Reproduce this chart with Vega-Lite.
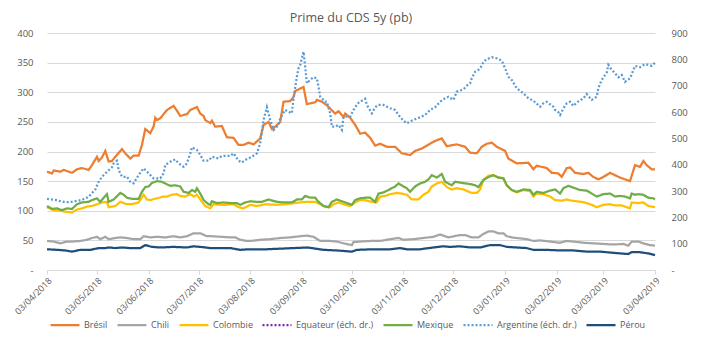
{
"$schema":"https://vega.github.io/schema/vega-lite/v6.json",
"width":608,"height":237,
"autosize":{"type":"none"},
"padding":{"left":47,"top":33,"right":46,"bottom":67},
"background":"white",
"title":{"text":"Prime du CDS 5y (pb)","fontSize":12.5,"fontWeight":"normal","color":"#595959","offset":4,"anchor":"middle"},
"data":{"values":[
{"d":"2018/04/03","p":"Brésil","v":166},{"d":"2018/04/06","p":"Brésil","v":163},{"d":"2018/04/07","p":"Brésil","v":168},{"d":"2018/04/11","p":"Brésil","v":166},{"d":"2018/04/13","p":"Brésil","v":169},{"d":"2018/04/18","p":"Brésil","v":164},{"d":"2018/04/21","p":"Brésil","v":170},{"d":"2018/04/24","p":"Brésil","v":172},{"d":"2018/04/28","p":"Brésil","v":169},{"d":"2018/04/30","p":"Brésil","v":177},{"d":"2018/05/03","p":"Brésil","v":191},{"d":"2018/05/04","p":"Brésil","v":184},{"d":"2018/05/06","p":"Brésil","v":190},{"d":"2018/05/08","p":"Brésil","v":201},{"d":"2018/05/10","p":"Brésil","v":183},{"d":"2018/05/12","p":"Brésil","v":184},{"d":"2018/05/14","p":"Brésil","v":191},{"d":"2018/05/18","p":"Brésil","v":204},{"d":"2018/05/20","p":"Brésil","v":197},{"d":"2018/05/23","p":"Brésil","v":188},{"d":"2018/05/25","p":"Brésil","v":193},{"d":"2018/05/28","p":"Brésil","v":193},{"d":"2018/05/30","p":"Brésil","v":211},{"d":"2018/06/01","p":"Brésil","v":238},{"d":"2018/06/04","p":"Brésil","v":231},{"d":"2018/06/06","p":"Brésil","v":242},{"d":"2018/06/07","p":"Brésil","v":257},{"d":"2018/06/08","p":"Brésil","v":253},{"d":"2018/06/10","p":"Brésil","v":256},{"d":"2018/06/14","p":"Brésil","v":270},{"d":"2018/06/18","p":"Brésil","v":277},{"d":"2018/06/20","p":"Brésil","v":269},{"d":"2018/06/22","p":"Brésil","v":260},{"d":"2018/06/26","p":"Brésil","v":263},{"d":"2018/06/28","p":"Brésil","v":270},{"d":"2018/07/02","p":"Brésil","v":275},{"d":"2018/07/04","p":"Brésil","v":264},{"d":"2018/07/06","p":"Brésil","v":260},{"d":"2018/07/07","p":"Brésil","v":253},{"d":"2018/07/10","p":"Brésil","v":248},{"d":"2018/07/11","p":"Brésil","v":252},{"d":"2018/07/13","p":"Brésil","v":242},{"d":"2018/07/17","p":"Brésil","v":243},{"d":"2018/07/20","p":"Brésil","v":224},{"d":"2018/07/24","p":"Brésil","v":223},{"d":"2018/07/27","p":"Brésil","v":211},{"d":"2018/07/30","p":"Brésil","v":211},{"d":"2018/08/02","p":"Brésil","v":215},{"d":"2018/08/05","p":"Brésil","v":212},{"d":"2018/08/09","p":"Brésil","v":222},{"d":"2018/08/11","p":"Brésil","v":245},{"d":"2018/08/14","p":"Brésil","v":250},{"d":"2018/08/16","p":"Brésil","v":238},{"d":"2018/08/18","p":"Brésil","v":242},{"d":"2018/08/21","p":"Brésil","v":250},{"d":"2018/08/23","p":"Brésil","v":284},{"d":"2018/08/27","p":"Brésil","v":285},{"d":"2018/08/29","p":"Brésil","v":292},{"d":"2018/08/30","p":"Brésil","v":302},{"d":"2018/09/04","p":"Brésil","v":309},{"d":"2018/09/06","p":"Brésil","v":280},{"d":"2018/09/11","p":"Brésil","v":283},{"d":"2018/09/12","p":"Brésil","v":287},{"d":"2018/09/15","p":"Brésil","v":284},{"d":"2018/09/18","p":"Brésil","v":278},{"d":"2018/09/23","p":"Brésil","v":264},{"d":"2018/09/25","p":"Brésil","v":268},{"d":"2018/09/28","p":"Brésil","v":258},{"d":"2018/09/29","p":"Brésil","v":264},{"d":"2018/10/02","p":"Brésil","v":257},{"d":"2018/10/05","p":"Brésil","v":245},{"d":"2018/10/08","p":"Brésil","v":230},{"d":"2018/10/11","p":"Brésil","v":232},{"d":"2018/10/14","p":"Brésil","v":223},{"d":"2018/10/17","p":"Brésil","v":210},{"d":"2018/10/20","p":"Brésil","v":213},{"d":"2018/10/24","p":"Brésil","v":208},{"d":"2018/10/29","p":"Brésil","v":208},{"d":"2018/11/02","p":"Brésil","v":197},{"d":"2018/11/07","p":"Brésil","v":194},{"d":"2018/11/10","p":"Brésil","v":201},{"d":"2018/11/14","p":"Brésil","v":205},{"d":"2018/11/20","p":"Brésil","v":215},{"d":"2018/11/23","p":"Brésil","v":219},{"d":"2018/11/26","p":"Brésil","v":222},{"d":"2018/11/29","p":"Brésil","v":209},{"d":"2018/12/05","p":"Brésil","v":212},{"d":"2018/12/10","p":"Brésil","v":208},{"d":"2018/12/13","p":"Brésil","v":198},{"d":"2018/12/17","p":"Brésil","v":197},{"d":"2018/12/20","p":"Brésil","v":208},{"d":"2018/12/23","p":"Brésil","v":213},{"d":"2018/12/26","p":"Brésil","v":215},{"d":"2018/12/29","p":"Brésil","v":208},{"d":"2019/01/03","p":"Brésil","v":201},{"d":"2019/01/05","p":"Brésil","v":188},{"d":"2019/01/10","p":"Brésil","v":180},{"d":"2019/01/17","p":"Brésil","v":181},{"d":"2019/01/20","p":"Brésil","v":170},{"d":"2019/01/22","p":"Brésil","v":176},{"d":"2019/01/28","p":"Brésil","v":172},{"d":"2019/01/31","p":"Brésil","v":164},{"d":"2019/02/04","p":"Brésil","v":163},{"d":"2019/02/06","p":"Brésil","v":157},{"d":"2019/02/09","p":"Brésil","v":172},{"d":"2019/02/11","p":"Brésil","v":173},{"d":"2019/02/14","p":"Brésil","v":164},{"d":"2019/02/19","p":"Brésil","v":162},{"d":"2019/02/22","p":"Brésil","v":164},{"d":"2019/02/25","p":"Brésil","v":157},{"d":"2019/02/28","p":"Brésil","v":153},{"d":"2019/03/03","p":"Brésil","v":157},{"d":"2019/03/07","p":"Brésil","v":164},{"d":"2019/03/13","p":"Brésil","v":156},{"d":"2019/03/19","p":"Brésil","v":150},{"d":"2019/03/22","p":"Brésil","v":177},{"d":"2019/03/25","p":"Brésil","v":174},{"d":"2019/03/27","p":"Brésil","v":184},{"d":"2019/03/29","p":"Brésil","v":177},{"d":"2019/04/01","p":"Brésil","v":170},{"d":"2019/04/03","p":"Brésil","v":170},
{"d":"2018/04/03","p":"Chili","v":49},{"d":"2018/04/07","p":"Chili","v":48},{"d":"2018/04/11","p":"Chili","v":45},{"d":"2018/04/15","p":"Chili","v":48},{"d":"2018/04/18","p":"Chili","v":48},{"d":"2018/04/23","p":"Chili","v":49},{"d":"2018/04/27","p":"Chili","v":51},{"d":"2018/04/30","p":"Chili","v":54},{"d":"2018/05/03","p":"Chili","v":56},{"d":"2018/05/05","p":"Chili","v":52},{"d":"2018/05/08","p":"Chili","v":56},{"d":"2018/05/10","p":"Chili","v":52},{"d":"2018/05/14","p":"Chili","v":54},{"d":"2018/05/17","p":"Chili","v":55},{"d":"2018/05/21","p":"Chili","v":54},{"d":"2018/05/25","p":"Chili","v":52},{"d":"2018/05/29","p":"Chili","v":52},{"d":"2018/05/31","p":"Chili","v":57},{"d":"2018/06/04","p":"Chili","v":55},{"d":"2018/06/08","p":"Chili","v":56},{"d":"2018/06/13","p":"Chili","v":55},{"d":"2018/06/18","p":"Chili","v":57},{"d":"2018/06/22","p":"Chili","v":55},{"d":"2018/06/26","p":"Chili","v":57},{"d":"2018/06/30","p":"Chili","v":62},{"d":"2018/07/04","p":"Chili","v":62},{"d":"2018/07/08","p":"Chili","v":57},{"d":"2018/07/11","p":"Chili","v":57},{"d":"2018/07/17","p":"Chili","v":56},{"d":"2018/07/22","p":"Chili","v":55},{"d":"2018/07/25","p":"Chili","v":55},{"d":"2018/07/28","p":"Chili","v":51},{"d":"2018/08/01","p":"Chili","v":49},{"d":"2018/08/03","p":"Chili","v":49},{"d":"2018/08/09","p":"Chili","v":51},{"d":"2018/08/15","p":"Chili","v":52},{"d":"2018/08/21","p":"Chili","v":54},{"d":"2018/08/27","p":"Chili","v":55},{"d":"2018/09/02","p":"Chili","v":57},{"d":"2018/09/06","p":"Chili","v":58},{"d":"2018/09/10","p":"Chili","v":56},{"d":"2018/09/14","p":"Chili","v":49},{"d":"2018/09/20","p":"Chili","v":49},{"d":"2018/09/24","p":"Chili","v":48},{"d":"2018/09/28","p":"Chili","v":45},{"d":"2018/10/03","p":"Chili","v":42},{"d":"2018/10/04","p":"Chili","v":47},{"d":"2018/10/08","p":"Chili","v":48},{"d":"2018/10/14","p":"Chili","v":49},{"d":"2018/10/20","p":"Chili","v":49},{"d":"2018/10/26","p":"Chili","v":52},{"d":"2018/10/31","p":"Chili","v":54},{"d":"2018/11/03","p":"Chili","v":51},{"d":"2018/11/09","p":"Chili","v":52},{"d":"2018/11/15","p":"Chili","v":54},{"d":"2018/11/21","p":"Chili","v":56},{"d":"2018/11/25","p":"Chili","v":60},{"d":"2018/11/28","p":"Chili","v":57},{"d":"2018/11/30","p":"Chili","v":55},{"d":"2018/12/07","p":"Chili","v":59},{"d":"2018/12/10","p":"Chili","v":59},{"d":"2018/12/14","p":"Chili","v":55},{"d":"2018/12/18","p":"Chili","v":55},{"d":"2018/12/21","p":"Chili","v":61},{"d":"2018/12/24","p":"Chili","v":65},{"d":"2018/12/27","p":"Chili","v":65},{"d":"2018/12/30","p":"Chili","v":62},{"d":"2019/01/02","p":"Chili","v":62},{"d":"2019/01/04","p":"Chili","v":57},{"d":"2019/01/07","p":"Chili","v":55},{"d":"2019/01/10","p":"Chili","v":54},{"d":"2019/01/16","p":"Chili","v":52},{"d":"2019/01/20","p":"Chili","v":49},{"d":"2019/01/24","p":"Chili","v":50},{"d":"2019/01/30","p":"Chili","v":48},{"d":"2019/02/05","p":"Chili","v":46},{"d":"2019/02/09","p":"Chili","v":49},{"d":"2019/02/13","p":"Chili","v":48},{"d":"2019/02/19","p":"Chili","v":46},{"d":"2019/02/25","p":"Chili","v":45},{"d":"2019/03/03","p":"Chili","v":44},{"d":"2019/03/09","p":"Chili","v":43},{"d":"2019/03/15","p":"Chili","v":44},{"d":"2019/03/18","p":"Chili","v":41},{"d":"2019/03/20","p":"Chili","v":48},{"d":"2019/03/24","p":"Chili","v":48},{"d":"2019/03/27","p":"Chili","v":45},{"d":"2019/03/31","p":"Chili","v":42},{"d":"2019/04/03","p":"Chili","v":41},
{"d":"2018/04/03","p":"Colombie","v":106},{"d":"2018/04/07","p":"Colombie","v":101},{"d":"2018/04/11","p":"Colombie","v":100},{"d":"2018/04/15","p":"Colombie","v":98},{"d":"2018/04/18","p":"Colombie","v":97},{"d":"2018/04/21","p":"Colombie","v":102},{"d":"2018/04/24","p":"Colombie","v":104},{"d":"2018/04/27","p":"Colombie","v":107},{"d":"2018/04/30","p":"Colombie","v":108},{"d":"2018/05/03","p":"Colombie","v":111},{"d":"2018/05/06","p":"Colombie","v":114},{"d":"2018/05/09","p":"Colombie","v":115},{"d":"2018/05/10","p":"Colombie","v":106},{"d":"2018/05/14","p":"Colombie","v":108},{"d":"2018/05/17","p":"Colombie","v":115},{"d":"2018/05/21","p":"Colombie","v":111},{"d":"2018/05/24","p":"Colombie","v":111},{"d":"2018/05/28","p":"Colombie","v":114},{"d":"2018/05/31","p":"Colombie","v":127},{"d":"2018/06/02","p":"Colombie","v":119},{"d":"2018/06/04","p":"Colombie","v":118},{"d":"2018/06/08","p":"Colombie","v":121},{"d":"2018/06/12","p":"Colombie","v":124},{"d":"2018/06/14","p":"Colombie","v":124},{"d":"2018/06/17","p":"Colombie","v":127},{"d":"2018/06/20","p":"Colombie","v":128},{"d":"2018/06/22","p":"Colombie","v":125},{"d":"2018/06/25","p":"Colombie","v":124},{"d":"2018/06/28","p":"Colombie","v":128},{"d":"2018/06/30","p":"Colombie","v":124},{"d":"2018/07/02","p":"Colombie","v":127},{"d":"2018/07/05","p":"Colombie","v":115},{"d":"2018/07/07","p":"Colombie","v":108},{"d":"2018/07/10","p":"Colombie","v":104},{"d":"2018/07/12","p":"Colombie","v":111},{"d":"2018/07/16","p":"Colombie","v":110},{"d":"2018/07/19","p":"Colombie","v":110},{"d":"2018/07/24","p":"Colombie","v":111},{"d":"2018/07/27","p":"Colombie","v":106},{"d":"2018/07/30","p":"Colombie","v":104},{"d":"2018/08/03","p":"Colombie","v":110},{"d":"2018/08/07","p":"Colombie","v":108},{"d":"2018/08/12","p":"Colombie","v":111},{"d":"2018/08/19","p":"Colombie","v":110},{"d":"2018/08/24","p":"Colombie","v":111},{"d":"2018/09/02","p":"Colombie","v":114},{"d":"2018/09/06","p":"Colombie","v":115},{"d":"2018/09/11","p":"Colombie","v":115},{"d":"2018/09/14","p":"Colombie","v":111},{"d":"2018/09/17","p":"Colombie","v":107},{"d":"2018/09/20","p":"Colombie","v":106},{"d":"2018/09/22","p":"Colombie","v":111},{"d":"2018/09/25","p":"Colombie","v":114},{"d":"2018/09/28","p":"Colombie","v":111},{"d":"2018/10/02","p":"Colombie","v":108},{"d":"2018/10/05","p":"Colombie","v":114},{"d":"2018/10/08","p":"Colombie","v":118},{"d":"2018/10/11","p":"Colombie","v":118},{"d":"2018/10/15","p":"Colombie","v":115},{"d":"2018/10/18","p":"Colombie","v":114},{"d":"2018/10/20","p":"Colombie","v":124},{"d":"2018/10/23","p":"Colombie","v":125},{"d":"2018/10/26","p":"Colombie","v":128},{"d":"2018/10/30","p":"Colombie","v":130},{"d":"2018/11/02","p":"Colombie","v":129},{"d":"2018/11/05","p":"Colombie","v":127},{"d":"2018/11/08","p":"Colombie","v":119},{"d":"2018/11/12","p":"Colombie","v":119},{"d":"2018/11/15","p":"Colombie","v":127},{"d":"2018/11/18","p":"Colombie","v":132},{"d":"2018/11/20","p":"Colombie","v":141},{"d":"2018/11/23","p":"Colombie","v":146},{"d":"2018/11/26","p":"Colombie","v":149},{"d":"2018/11/28","p":"Colombie","v":143},{"d":"2018/11/29","p":"Colombie","v":140},{"d":"2018/12/02","p":"Colombie","v":136},{"d":"2018/12/05","p":"Colombie","v":138},{"d":"2018/12/09","p":"Colombie","v":136},{"d":"2018/12/14","p":"Colombie","v":130},{"d":"2018/12/17","p":"Colombie","v":130},{"d":"2018/12/19","p":"Colombie","v":136},{"d":"2018/12/21","p":"Colombie","v":152},{"d":"2018/12/24","p":"Colombie","v":159},{"d":"2018/12/27","p":"Colombie","v":160},{"d":"2018/12/30","p":"Colombie","v":156},{"d":"2019/01/02","p":"Colombie","v":154},{"d":"2019/01/04","p":"Colombie","v":143},{"d":"2019/01/07","p":"Colombie","v":135},{"d":"2019/01/10","p":"Colombie","v":131},{"d":"2019/01/14","p":"Colombie","v":135},{"d":"2019/01/18","p":"Colombie","v":133},{"d":"2019/01/20","p":"Colombie","v":124},{"d":"2019/01/22","p":"Colombie","v":129},{"d":"2019/01/26","p":"Colombie","v":128},{"d":"2019/01/30","p":"Colombie","v":124},{"d":"2019/02/02","p":"Colombie","v":118},{"d":"2019/02/06","p":"Colombie","v":117},{"d":"2019/02/09","p":"Colombie","v":119},{"d":"2019/02/12","p":"Colombie","v":117},{"d":"2019/02/15","p":"Colombie","v":116},{"d":"2019/02/18","p":"Colombie","v":115},{"d":"2019/02/21","p":"Colombie","v":113},{"d":"2019/02/24","p":"Colombie","v":110},{"d":"2019/02/27","p":"Colombie","v":106},{"d":"2019/03/03","p":"Colombie","v":110},{"d":"2019/03/07","p":"Colombie","v":111},{"d":"2019/03/10","p":"Colombie","v":109},{"d":"2019/03/14","p":"Colombie","v":109},{"d":"2019/03/19","p":"Colombie","v":104},{"d":"2019/03/20","p":"Colombie","v":114},{"d":"2019/03/24","p":"Colombie","v":113},{"d":"2019/03/27","p":"Colombie","v":114},{"d":"2019/03/30","p":"Colombie","v":108},{"d":"2019/04/03","p":"Colombie","v":106},
{"d":"2018/04/03","p":"Mexique","v":108},{"d":"2018/04/06","p":"Mexique","v":103},{"d":"2018/04/09","p":"Mexique","v":104},{"d":"2018/04/12","p":"Mexique","v":101},{"d":"2018/04/15","p":"Mexique","v":104},{"d":"2018/04/18","p":"Mexique","v":103},{"d":"2018/04/21","p":"Mexique","v":111},{"d":"2018/04/24","p":"Mexique","v":114},{"d":"2018/04/28","p":"Mexique","v":115},{"d":"2018/04/30","p":"Mexique","v":118},{"d":"2018/05/03","p":"Mexique","v":121},{"d":"2018/05/05","p":"Mexique","v":115},{"d":"2018/05/07","p":"Mexique","v":122},{"d":"2018/05/09","p":"Mexique","v":128},{"d":"2018/05/10","p":"Mexique","v":115},{"d":"2018/05/13","p":"Mexique","v":119},{"d":"2018/05/17","p":"Mexique","v":130},{"d":"2018/05/19","p":"Mexique","v":127},{"d":"2018/05/21","p":"Mexique","v":122},{"d":"2018/05/24","p":"Mexique","v":120},{"d":"2018/05/28","p":"Mexique","v":120},{"d":"2018/05/30","p":"Mexique","v":132},{"d":"2018/06/01","p":"Mexique","v":140},{"d":"2018/06/03","p":"Mexique","v":141},{"d":"2018/06/05","p":"Mexique","v":147},{"d":"2018/06/08","p":"Mexique","v":150},{"d":"2018/06/11","p":"Mexique","v":149},{"d":"2018/06/13","p":"Mexique","v":146},{"d":"2018/06/16","p":"Mexique","v":142},{"d":"2018/06/19","p":"Mexique","v":143},{"d":"2018/06/22","p":"Mexique","v":141},{"d":"2018/06/24","p":"Mexique","v":132},{"d":"2018/06/27","p":"Mexique","v":130},{"d":"2018/06/29","p":"Mexique","v":135},{"d":"2018/07/01","p":"Mexique","v":132},{"d":"2018/07/02","p":"Mexique","v":138},{"d":"2018/07/04","p":"Mexique","v":129},{"d":"2018/07/06","p":"Mexique","v":118},{"d":"2018/07/09","p":"Mexique","v":111},{"d":"2018/07/10","p":"Mexique","v":110},{"d":"2018/07/11","p":"Mexique","v":116},{"d":"2018/07/14","p":"Mexique","v":113},{"d":"2018/07/18","p":"Mexique","v":114},{"d":"2018/07/22","p":"Mexique","v":113},{"d":"2018/07/26","p":"Mexique","v":113},{"d":"2018/07/28","p":"Mexique","v":110},{"d":"2018/07/31","p":"Mexique","v":114},{"d":"2018/08/03","p":"Mexique","v":116},{"d":"2018/08/07","p":"Mexique","v":115},{"d":"2018/08/10","p":"Mexique","v":115},{"d":"2018/08/14","p":"Mexique","v":119},{"d":"2018/08/19","p":"Mexique","v":115},{"d":"2018/08/23","p":"Mexique","v":114},{"d":"2018/08/28","p":"Mexique","v":114},{"d":"2018/08/31","p":"Mexique","v":119},{"d":"2018/09/03","p":"Mexique","v":119},{"d":"2018/09/05","p":"Mexique","v":125},{"d":"2018/09/08","p":"Mexique","v":122},{"d":"2018/09/11","p":"Mexique","v":122},{"d":"2018/09/13","p":"Mexique","v":115},{"d":"2018/09/16","p":"Mexique","v":108},{"d":"2018/09/19","p":"Mexique","v":106},{"d":"2018/09/21","p":"Mexique","v":115},{"d":"2018/09/24","p":"Mexique","v":119},{"d":"2018/09/27","p":"Mexique","v":116},{"d":"2018/09/30","p":"Mexique","v":113},{"d":"2018/10/03","p":"Mexique","v":110},{"d":"2018/10/05","p":"Mexique","v":118},{"d":"2018/10/08","p":"Mexique","v":121},{"d":"2018/10/11","p":"Mexique","v":122},{"d":"2018/10/14","p":"Mexique","v":122},{"d":"2018/10/17","p":"Mexique","v":115},{"d":"2018/10/19","p":"Mexique","v":129},{"d":"2018/10/22","p":"Mexique","v":131},{"d":"2018/10/25","p":"Mexique","v":135},{"d":"2018/10/29","p":"Mexique","v":141},{"d":"2018/10/31","p":"Mexique","v":146},{"d":"2018/11/03","p":"Mexique","v":141},{"d":"2018/11/05","p":"Mexique","v":138},{"d":"2018/11/07","p":"Mexique","v":132},{"d":"2018/11/10","p":"Mexique","v":141},{"d":"2018/11/13","p":"Mexique","v":146},{"d":"2018/11/16","p":"Mexique","v":149},{"d":"2018/11/18","p":"Mexique","v":153},{"d":"2018/11/20","p":"Mexique","v":160},{"d":"2018/11/23","p":"Mexique","v":156},{"d":"2018/11/26","p":"Mexique","v":162},{"d":"2018/11/28","p":"Mexique","v":149},{"d":"2018/12/02","p":"Mexique","v":143},{"d":"2018/12/04","p":"Mexique","v":149},{"d":"2018/12/08","p":"Mexique","v":147},{"d":"2018/12/13","p":"Mexique","v":145},{"d":"2018/12/16","p":"Mexique","v":143},{"d":"2018/12/18","p":"Mexique","v":140},{"d":"2018/12/21","p":"Mexique","v":152},{"d":"2018/12/24","p":"Mexique","v":157},{"d":"2018/12/27","p":"Mexique","v":160},{"d":"2018/12/30","p":"Mexique","v":156},{"d":"2019/01/02","p":"Mexique","v":155},{"d":"2019/01/04","p":"Mexique","v":143},{"d":"2019/01/07","p":"Mexique","v":135},{"d":"2019/01/10","p":"Mexique","v":132},{"d":"2019/01/14","p":"Mexique","v":136},{"d":"2019/01/18","p":"Mexique","v":135},{"d":"2019/01/20","p":"Mexique","v":127},{"d":"2019/01/22","p":"Mexique","v":132},{"d":"2019/01/26","p":"Mexique","v":130},{"d":"2019/01/30","p":"Mexique","v":134},{"d":"2019/02/02","p":"Mexique","v":136},{"d":"2019/02/05","p":"Mexique","v":129},{"d":"2019/02/07","p":"Mexique","v":138},{"d":"2019/02/10","p":"Mexique","v":142},{"d":"2019/02/14","p":"Mexique","v":138},{"d":"2019/02/17","p":"Mexique","v":135},{"d":"2019/02/21","p":"Mexique","v":134},{"d":"2019/02/24","p":"Mexique","v":129},{"d":"2019/02/27","p":"Mexique","v":124},{"d":"2019/03/03","p":"Mexique","v":128},{"d":"2019/03/07","p":"Mexique","v":129},{"d":"2019/03/10","p":"Mexique","v":124},{"d":"2019/03/13","p":"Mexique","v":125},{"d":"2019/03/16","p":"Mexique","v":124},{"d":"2019/03/19","p":"Mexique","v":121},{"d":"2019/03/20","p":"Mexique","v":129},{"d":"2019/03/22","p":"Mexique","v":127},{"d":"2019/03/24","p":"Mexique","v":128},{"d":"2019/03/27","p":"Mexique","v":127},{"d":"2019/03/30","p":"Mexique","v":122},{"d":"2019/04/02","p":"Mexique","v":121},{"d":"2019/04/03","p":"Mexique","v":119},
{"d":"2018/04/03","p":"Pérou","v":35},{"d":"2018/04/09","p":"Pérou","v":34},{"d":"2018/04/14","p":"Pérou","v":33},{"d":"2018/04/18","p":"Pérou","v":31},{"d":"2018/04/23","p":"Pérou","v":34},{"d":"2018/04/29","p":"Pérou","v":34},{"d":"2018/05/04","p":"Pérou","v":37},{"d":"2018/05/08","p":"Pérou","v":37},{"d":"2018/05/10","p":"Pérou","v":38},{"d":"2018/05/14","p":"Pérou","v":37},{"d":"2018/05/18","p":"Pérou","v":38},{"d":"2018/05/23","p":"Pérou","v":37},{"d":"2018/05/29","p":"Pérou","v":37},{"d":"2018/06/01","p":"Pérou","v":42},{"d":"2018/06/05","p":"Pérou","v":39},{"d":"2018/06/10","p":"Pérou","v":38},{"d":"2018/06/18","p":"Pérou","v":39},{"d":"2018/06/26","p":"Pérou","v":38},{"d":"2018/06/30","p":"Pérou","v":40},{"d":"2018/07/04","p":"Pérou","v":39},{"d":"2018/07/10","p":"Pérou","v":37},{"d":"2018/07/16","p":"Pérou","v":37},{"d":"2018/07/22","p":"Pérou","v":37},{"d":"2018/07/28","p":"Pérou","v":34},{"d":"2018/08/02","p":"Pérou","v":35},{"d":"2018/08/13","p":"Pérou","v":35},{"d":"2018/08/21","p":"Pérou","v":36},{"d":"2018/08/29","p":"Pérou","v":37},{"d":"2018/09/06","p":"Pérou","v":38},{"d":"2018/09/09","p":"Pérou","v":37},{"d":"2018/09/16","p":"Pérou","v":34},{"d":"2018/09/24","p":"Pérou","v":33},{"d":"2018/10/03","p":"Pérou","v":31},{"d":"2018/10/06","p":"Pérou","v":34},{"d":"2018/10/16","p":"Pérou","v":35},{"d":"2018/10/26","p":"Pérou","v":35},{"d":"2018/11/01","p":"Pérou","v":37},{"d":"2018/11/05","p":"Pérou","v":35},{"d":"2018/11/13","p":"Pérou","v":35},{"d":"2018/11/21","p":"Pérou","v":38},{"d":"2018/11/27","p":"Pérou","v":40},{"d":"2018/12/01","p":"Pérou","v":39},{"d":"2018/12/07","p":"Pérou","v":40},{"d":"2018/12/13","p":"Pérou","v":38},{"d":"2018/12/19","p":"Pérou","v":38},{"d":"2018/12/25","p":"Pérou","v":42},{"d":"2018/12/31","p":"Pérou","v":42},{"d":"2019/01/04","p":"Pérou","v":39},{"d":"2019/01/10","p":"Pérou","v":38},{"d":"2019/01/16","p":"Pérou","v":37},{"d":"2019/01/20","p":"Pérou","v":34},{"d":"2019/01/28","p":"Pérou","v":34},{"d":"2019/02/05","p":"Pérou","v":33},{"d":"2019/02/13","p":"Pérou","v":33},{"d":"2019/02/21","p":"Pérou","v":31},{"d":"2019/03/01","p":"Pérou","v":31},{"d":"2019/03/09","p":"Pérou","v":29},{"d":"2019/03/13","p":"Pérou","v":28},{"d":"2019/03/18","p":"Pérou","v":27},{"d":"2019/03/20","p":"Pérou","v":30},{"d":"2019/03/25","p":"Pérou","v":30},{"d":"2019/03/30","p":"Pérou","v":28},{"d":"2019/04/03","p":"Pérou","v":25},
{"d":"2018/04/03","p":"Argentine (éch. dr.)","v":270},{"d":"2018/04/08","p":"Argentine (éch. dr.)","v":266},{"d":"2018/04/14","p":"Argentine (éch. dr.)","v":257},{"d":"2018/04/18","p":"Argentine (éch. dr.)","v":259},{"d":"2018/04/24","p":"Argentine (éch. dr.)","v":266},{"d":"2018/04/28","p":"Argentine (éch. dr.)","v":278},{"d":"2018/05/02","p":"Argentine (éch. dr.)","v":306},{"d":"2018/05/04","p":"Argentine (éch. dr.)","v":335},{"d":"2018/05/06","p":"Argentine (éch. dr.)","v":354},{"d":"2018/05/09","p":"Argentine (éch. dr.)","v":373},{"d":"2018/05/12","p":"Argentine (éch. dr.)","v":390},{"d":"2018/05/13","p":"Argentine (éch. dr.)","v":405},{"d":"2018/05/15","p":"Argentine (éch. dr.)","v":415},{"d":"2018/05/16","p":"Argentine (éch. dr.)","v":380},{"d":"2018/05/18","p":"Argentine (éch. dr.)","v":354},{"d":"2018/05/21","p":"Argentine (éch. dr.)","v":354},{"d":"2018/05/23","p":"Argentine (éch. dr.)","v":335},{"d":"2018/05/25","p":"Argentine (éch. dr.)","v":329},{"d":"2018/05/28","p":"Argentine (éch. dr.)","v":361},{"d":"2018/05/31","p":"Argentine (éch. dr.)","v":386},{"d":"2018/06/04","p":"Argentine (éch. dr.)","v":361},{"d":"2018/06/06","p":"Argentine (éch. dr.)","v":348},{"d":"2018/06/10","p":"Argentine (éch. dr.)","v":348},{"d":"2018/06/12","p":"Argentine (éch. dr.)","v":367},{"d":"2018/06/13","p":"Argentine (éch. dr.)","v":399},{"d":"2018/06/17","p":"Argentine (éch. dr.)","v":415},{"d":"2018/06/19","p":"Argentine (éch. dr.)","v":420},{"d":"2018/06/21","p":"Argentine (éch. dr.)","v":405},{"d":"2018/06/24","p":"Argentine (éch. dr.)","v":392},{"d":"2018/06/26","p":"Argentine (éch. dr.)","v":405},{"d":"2018/06/28","p":"Argentine (éch. dr.)","v":443},{"d":"2018/06/29","p":"Argentine (éch. dr.)","v":466},{"d":"2018/07/02","p":"Argentine (éch. dr.)","v":456},{"d":"2018/07/04","p":"Argentine (éch. dr.)","v":437},{"d":"2018/07/06","p":"Argentine (éch. dr.)","v":415},{"d":"2018/07/09","p":"Argentine (éch. dr.)","v":415},{"d":"2018/07/11","p":"Argentine (éch. dr.)","v":430},{"d":"2018/07/15","p":"Argentine (éch. dr.)","v":424},{"d":"2018/07/17","p":"Argentine (éch. dr.)","v":433},{"d":"2018/07/20","p":"Argentine (éch. dr.)","v":433},{"d":"2018/07/22","p":"Argentine (éch. dr.)","v":433},{"d":"2018/07/24","p":"Argentine (éch. dr.)","v":443},{"d":"2018/07/27","p":"Argentine (éch. dr.)","v":415},{"d":"2018/07/29","p":"Argentine (éch. dr.)","v":408},{"d":"2018/07/31","p":"Argentine (éch. dr.)","v":418},{"d":"2018/08/04","p":"Argentine (éch. dr.)","v":430},{"d":"2018/08/07","p":"Argentine (éch. dr.)","v":443},{"d":"2018/08/09","p":"Argentine (éch. dr.)","v":481},{"d":"2018/08/11","p":"Argentine (éch. dr.)","v":570},{"d":"2018/08/13","p":"Argentine (éch. dr.)","v":618},{"d":"2018/08/15","p":"Argentine (éch. dr.)","v":570},{"d":"2018/08/17","p":"Argentine (éch. dr.)","v":532},{"d":"2018/08/20","p":"Argentine (éch. dr.)","v":551},{"d":"2018/08/21","p":"Argentine (éch. dr.)","v":576},{"d":"2018/08/24","p":"Argentine (éch. dr.)","v":608},{"d":"2018/08/26","p":"Argentine (éch. dr.)","v":601},{"d":"2018/08/28","p":"Argentine (éch. dr.)","v":595},{"d":"2018/08/29","p":"Argentine (éch. dr.)","v":652},{"d":"2018/08/31","p":"Argentine (éch. dr.)","v":734},{"d":"2018/09/01","p":"Argentine (éch. dr.)","v":766},{"d":"2018/09/02","p":"Argentine (éch. dr.)","v":779},{"d":"2018/09/03","p":"Argentine (éch. dr.)","v":804},{"d":"2018/09/04","p":"Argentine (éch. dr.)","v":829},{"d":"2018/09/05","p":"Argentine (éch. dr.)","v":772},{"d":"2018/09/06","p":"Argentine (éch. dr.)","v":709},{"d":"2018/09/08","p":"Argentine (éch. dr.)","v":722},{"d":"2018/09/10","p":"Argentine (éch. dr.)","v":732},{"d":"2018/09/12","p":"Argentine (éch. dr.)","v":728},{"d":"2018/09/13","p":"Argentine (éch. dr.)","v":696},{"d":"2018/09/14","p":"Argentine (éch. dr.)","v":658},{"d":"2018/09/17","p":"Argentine (éch. dr.)","v":639},{"d":"2018/09/18","p":"Argentine (éch. dr.)","v":639},{"d":"2018/09/20","p":"Argentine (éch. dr.)","v":595},{"d":"2018/09/21","p":"Argentine (éch. dr.)","v":544},{"d":"2018/09/23","p":"Argentine (éch. dr.)","v":544},{"d":"2018/09/25","p":"Argentine (éch. dr.)","v":551},{"d":"2018/09/27","p":"Argentine (éch. dr.)","v":532},{"d":"2018/09/28","p":"Argentine (éch. dr.)","v":582},{"d":"2018/10/02","p":"Argentine (éch. dr.)","v":582},{"d":"2018/10/04","p":"Argentine (éch. dr.)","v":608},{"d":"2018/10/06","p":"Argentine (éch. dr.)","v":627},{"d":"2018/10/07","p":"Argentine (éch. dr.)","v":635},{"d":"2018/10/11","p":"Argentine (éch. dr.)","v":650},{"d":"2018/10/12","p":"Argentine (éch. dr.)","v":627},{"d":"2018/10/15","p":"Argentine (éch. dr.)","v":595},{"d":"2018/10/17","p":"Argentine (éch. dr.)","v":618},{"d":"2018/10/19","p":"Argentine (éch. dr.)","v":627},{"d":"2018/10/22","p":"Argentine (éch. dr.)","v":627},{"d":"2018/10/26","p":"Argentine (éch. dr.)","v":614},{"d":"2018/10/29","p":"Argentine (éch. dr.)","v":608},{"d":"2018/10/31","p":"Argentine (éch. dr.)","v":589},{"d":"2018/11/03","p":"Argentine (éch. dr.)","v":567},{"d":"2018/11/05","p":"Argentine (éch. dr.)","v":557},{"d":"2018/11/09","p":"Argentine (éch. dr.)","v":570},{"d":"2018/11/13","p":"Argentine (éch. dr.)","v":580},{"d":"2018/11/16","p":"Argentine (éch. dr.)","v":589},{"d":"2018/11/19","p":"Argentine (éch. dr.)","v":608},{"d":"2018/11/22","p":"Argentine (éch. dr.)","v":618},{"d":"2018/11/25","p":"Argentine (éch. dr.)","v":639},{"d":"2018/11/28","p":"Argentine (éch. dr.)","v":652},{"d":"2018/11/30","p":"Argentine (éch. dr.)","v":658},{"d":"2018/12/03","p":"Argentine (éch. dr.)","v":646},{"d":"2018/12/05","p":"Argentine (éch. dr.)","v":677},{"d":"2018/12/09","p":"Argentine (éch. dr.)","v":686},{"d":"2018/12/11","p":"Argentine (éch. dr.)","v":700},{"d":"2018/12/13","p":"Argentine (éch. dr.)","v":709},{"d":"2018/12/14","p":"Argentine (éch. dr.)","v":728},{"d":"2018/12/16","p":"Argentine (éch. dr.)","v":753},{"d":"2018/12/18","p":"Argentine (éch. dr.)","v":760},{"d":"2018/12/20","p":"Argentine (éch. dr.)","v":775},{"d":"2018/12/21","p":"Argentine (éch. dr.)","v":791},{"d":"2018/12/23","p":"Argentine (éch. dr.)","v":800},{"d":"2018/12/26","p":"Argentine (éch. dr.)","v":808},{"d":"2018/12/29","p":"Argentine (éch. dr.)","v":804},{"d":"2019/01/01","p":"Argentine (éch. dr.)","v":795},{"d":"2019/01/03","p":"Argentine (éch. dr.)","v":766},{"d":"2019/01/05","p":"Argentine (éch. dr.)","v":734},{"d":"2019/01/07","p":"Argentine (éch. dr.)","v":722},{"d":"2019/01/10","p":"Argentine (éch. dr.)","v":690},{"d":"2019/01/14","p":"Argentine (éch. dr.)","v":671},{"d":"2019/01/17","p":"Argentine (éch. dr.)","v":652},{"d":"2019/01/20","p":"Argentine (éch. dr.)","v":643},{"d":"2019/01/24","p":"Argentine (éch. dr.)","v":620},{"d":"2019/01/26","p":"Argentine (éch. dr.)","v":633},{"d":"2019/01/28","p":"Argentine (éch. dr.)","v":639},{"d":"2019/02/01","p":"Argentine (éch. dr.)","v":620},{"d":"2019/02/02","p":"Argentine (éch. dr.)","v":608},{"d":"2019/02/04","p":"Argentine (éch. dr.)","v":599},{"d":"2019/02/05","p":"Argentine (éch. dr.)","v":589},{"d":"2019/02/07","p":"Argentine (éch. dr.)","v":614},{"d":"2019/02/09","p":"Argentine (éch. dr.)","v":633},{"d":"2019/02/11","p":"Argentine (éch. dr.)","v":639},{"d":"2019/02/13","p":"Argentine (éch. dr.)","v":623},{"d":"2019/02/15","p":"Argentine (éch. dr.)","v":636},{"d":"2019/02/19","p":"Argentine (éch. dr.)","v":652},{"d":"2019/02/21","p":"Argentine (éch. dr.)","v":668},{"d":"2019/02/24","p":"Argentine (éch. dr.)","v":646},{"d":"2019/02/27","p":"Argentine (éch. dr.)","v":658},{"d":"2019/02/28","p":"Argentine (éch. dr.)","v":690},{"d":"2019/03/02","p":"Argentine (éch. dr.)","v":722},{"d":"2019/03/05","p":"Argentine (éch. dr.)","v":749},{"d":"2019/03/06","p":"Argentine (éch. dr.)","v":779},{"d":"2019/03/08","p":"Argentine (éch. dr.)","v":760},{"d":"2019/03/10","p":"Argentine (éch. dr.)","v":747},{"d":"2019/03/12","p":"Argentine (éch. dr.)","v":732},{"d":"2019/03/14","p":"Argentine (éch. dr.)","v":741},{"d":"2019/03/16","p":"Argentine (éch. dr.)","v":715},{"d":"2019/03/19","p":"Argentine (éch. dr.)","v":728},{"d":"2019/03/20","p":"Argentine (éch. dr.)","v":743},{"d":"2019/03/22","p":"Argentine (éch. dr.)","v":775},{"d":"2019/03/25","p":"Argentine (éch. dr.)","v":770},{"d":"2019/03/28","p":"Argentine (éch. dr.)","v":782},{"d":"2019/03/30","p":"Argentine (éch. dr.)","v":779},{"d":"2019/04/01","p":"Argentine (éch. dr.)","v":775},{"d":"2019/04/03","p":"Argentine (éch. dr.)","v":787}
]},
"encoding":{
"x":{"field":"d","type":"temporal","title":null,
"scale":{"domain":[{"year":2018,"month":4,"date":3},{"year":2019,"month":4,"date":3}],"nice":false},
"axis":{"values":[{"year":2018,"month":4,"date":3},{"year":2018,"month":5,"date":3},{"year":2018,"month":6,"date":3},{"year":2018,"month":7,"date":3},{"year":2018,"month":8,"date":3},{"year":2018,"month":9,"date":3},{"year":2018,"month":10,"date":3},{"year":2018,"month":11,"date":3},{"year":2018,"month":12,"date":3},{"year":2019,"month":1,"date":3},{"year":2019,"month":2,"date":3},{"year":2019,"month":3,"date":3},{"year":2019,"month":4,"date":3}],
"format":"%d/%m/%Y","labelAngle":-45,"labelFontSize":9,"labelColor":"#595959","grid":false,"domainColor":"#D9D9D9","tickColor":"#D9D9D9","tickSize":4,"labelPadding":2,"labelOverlap":false,"labelBound":false,"labelFlush":false}},
"color":{"field":"p","type":"nominal","title":null,
"scale":{"domain":["Brésil","Chili","Colombie","Equateur (éch. dr.)","Mexique","Argentine (éch. dr.)","Pérou"],"range":["#ED7D31","#A5A5A5","#FFC000","#7030A0","#70AD47","#5B9BD5","#1F4E79"]},
"legend":{"orient":"none","legendX":2,"legendY":276,"direction":"horizontal","gridAlign":"none","symbolType":"stroke","symbolSize":841,"symbolStrokeWidth":2.25,"labelFontSize":9,"labelColor":"#595959","labelOffset":3,"columnPadding":5,"labelLimit":200}},
"strokeDash":{"field":"p","type":"nominal","title":null,
"scale":{"domain":["Brésil","Chili","Colombie","Equateur (éch. dr.)","Mexique","Argentine (éch. dr.)","Pérou"],"range":[[1,0],[1,0],[1,0],[2,2],[1,0],[2,2],[1,0]]},
"legend":{"orient":"none","legendX":2,"legendY":276,"direction":"horizontal","gridAlign":"none","symbolType":"stroke","symbolSize":841,"symbolStrokeWidth":2.25,"labelFontSize":9,"labelColor":"#595959","labelOffset":3,"columnPadding":5,"labelLimit":200}}
},
"layer":[
{"transform":[{"filter":"datum.p != 'Argentine (éch. dr.)'"}],
"mark":{"type":"line","strokeWidth":2.25},
"encoding":{"y":{"field":"v","type":"quantitative","title":null,
"scale":{"domain":[0,400],"nice":false,"zero":true},
"axis":{"values":[0,50,100,150,200,250,300,350,400],"labelExpr":"datum.value == 0 ? '-  ' : datum.label","grid":true,"gridColor":"#D9D9D9","domain":false,"ticks":false,"labelPadding":14,"labelFontSize":9.5,"labelColor":"#595959"}}}},
{"transform":[{"filter":"datum.p == 'Argentine (éch. dr.)'"}],
"mark":{"type":"line","strokeWidth":2.25},
"encoding":{"y":{"field":"v","type":"quantitative","title":null,
"scale":{"domain":[0,900],"nice":false,"zero":true},
"axis":{"orient":"right","values":[0,100,200,300,400,500,600,700,800,900],"labelExpr":"datum.value == 0 ? '-' : datum.label","grid":false,"domain":false,"ticks":false,"labelPadding":16,"labelFontSize":9.5,"labelColor":"#595959"}}}}
],
"resolve":{"scale":{"y":"independent"}},
"config":{"font":"Open Sans","view":{"stroke":null}}
}
